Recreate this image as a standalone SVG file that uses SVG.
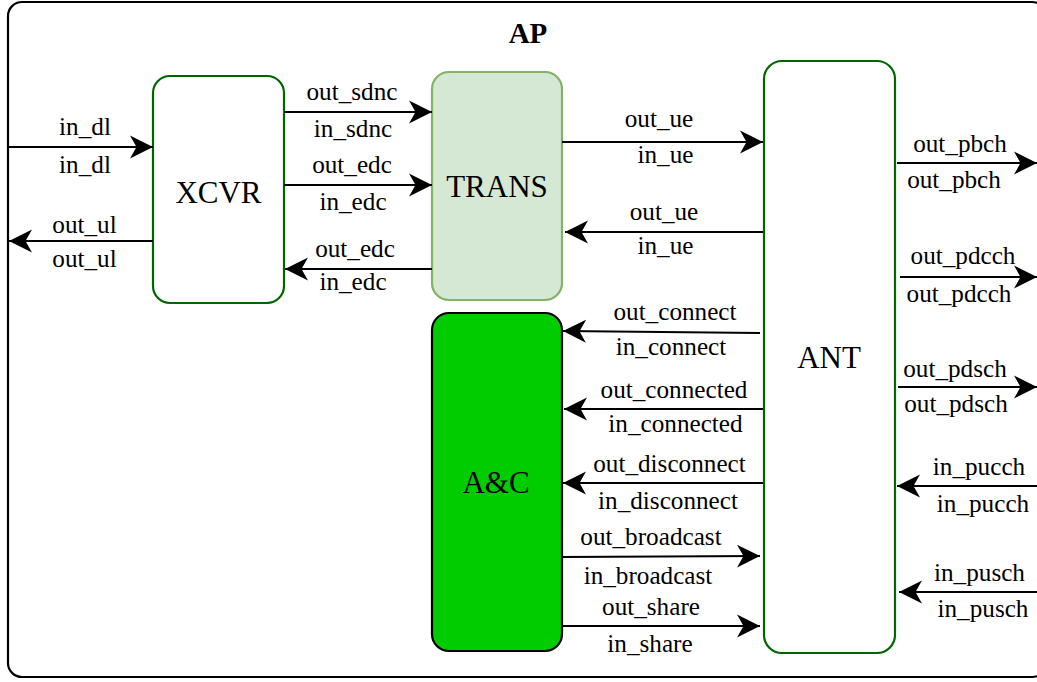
<svg xmlns="http://www.w3.org/2000/svg" width="1037" height="682" viewBox="0 0 1037 682">
<defs>
<marker id="arr" markerUnits="userSpaceOnUse" markerWidth="24" markerHeight="24" viewBox="0 0 24 24" refX="23" refY="12" orient="auto">
<path d="M0,0.5 L23,12 L0,23.5 L6.5,12 Z" fill="#000"/>
</marker>
<style>
.lbl{font-family:"Liberation Serif","Times New Roman",serif;font-size:25.2px;fill:#000;text-anchor:middle}
.nt{font-family:"Liberation Serif","Times New Roman",serif;font-size:31px;fill:#000;text-anchor:middle}
.ln{stroke:#000;stroke-width:2.2;fill:none;marker-end:url(#arr)}
.gn{fill:#fff;stroke:#006600;stroke-width:2.2}
</style>
</defs>
<rect x="0" y="0" width="1037" height="682" fill="#fff"/>
<g id="AP">
<rect x="8" y="2" width="1038" height="675" rx="14" fill="none" stroke="#000" stroke-width="2.2"/>
<text x="528" y="43" style="font-family:'Liberation Serif','Times New Roman',serif;font-size:29px;font-weight:bold;text-anchor:middle">AP</text>
</g>
<g id="XCVR">
<rect class="gn" x="153" y="76" width="131" height="227" rx="17"/>
<text class="nt" x="218.5" y="203">XCVR</text>
</g>
<g id="TRANS">
<rect x="432" y="72" width="130" height="228" rx="17" fill="#d5e8d4" stroke="#82b366" stroke-width="2.2"/>
<text class="nt" x="497" y="197">TRANS</text>
</g>
<g id="AC">
<rect x="432" y="313" width="130" height="338" rx="17" fill="#00cc00" stroke="#000" stroke-width="2.2"/>
<text class="nt" x="496" y="493">A&amp;C</text>
</g>
<g id="ANT">
<rect class="gn" x="764" y="61" width="131" height="592" rx="18"/>
<text class="nt" x="829" y="368">ANT</text>
</g>
<g id="connectors">
<line class="ln" x1="8" y1="147" x2="153" y2="147"/>
<line class="ln" x1="153" y1="241" x2="9" y2="241"/>
<line class="ln" x1="284" y1="112" x2="432" y2="112"/>
<line class="ln" x1="284" y1="185" x2="432" y2="185"/>
<line class="ln" x1="432" y1="269" x2="285" y2="269"/>
<line class="ln" x1="562" y1="142" x2="763" y2="142"/>
<line class="ln" x1="763" y1="232" x2="565" y2="232"/>
<line class="ln" x1="760" y1="333" x2="563" y2="331"/>
<line class="ln" x1="763" y1="409" x2="564" y2="409"/>
<line class="ln" x1="763" y1="483" x2="563" y2="483"/>
<line class="ln" x1="562" y1="557" x2="760" y2="556"/>
<line class="ln" x1="562" y1="626" x2="760" y2="626"/>
<line class="ln" x1="897" y1="163" x2="1037" y2="163"/>
<line class="ln" x1="900" y1="277" x2="1037" y2="277"/>
<line class="ln" x1="898" y1="387" x2="1037" y2="387"/>
<line class="ln" x1="1037" y1="486" x2="897" y2="486"/>
<line class="ln" x1="1037" y1="592" x2="899" y2="592"/>
<g id="labels">
<text class="lbl" x="85" y="135">in_dl</text>
<text class="lbl" x="85" y="173">in_dl</text>
<text class="lbl" x="84.5" y="233">out_ul</text>
<text class="lbl" x="84.5" y="267">out_ul</text>
<text class="lbl" x="352" y="100">out_sdnc</text>
<text class="lbl" x="353" y="137">in_sdnc</text>
<text class="lbl" x="352" y="173">out_edc</text>
<text class="lbl" x="353" y="210">in_edc</text>
<text class="lbl" x="355" y="257">out_edc</text>
<text class="lbl" x="353" y="290">in_edc</text>
<text class="lbl" x="659" y="127">out_ue</text>
<text class="lbl" x="665.5" y="163">in_ue</text>
<text class="lbl" x="664" y="220">out_ue</text>
<text class="lbl" x="665.5" y="254">in_ue</text>
<text class="lbl" x="675" y="320">out_connect</text>
<text class="lbl" x="671" y="355">in_connect</text>
<text class="lbl" x="674" y="398">out_connected</text>
<text class="lbl" x="675.5" y="432">in_connected</text>
<text class="lbl" x="669.5" y="472">out_disconnect</text>
<text class="lbl" x="668" y="509">in_disconnect</text>
<text class="lbl" x="651" y="545">out_broadcast</text>
<text class="lbl" x="648" y="584">in_broadcast</text>
<text class="lbl" x="651" y="615">out_share</text>
<text class="lbl" x="650" y="652">in_share</text>
<text class="lbl" x="960" y="152">out_pbch</text>
<text class="lbl" x="954" y="188">out_pbch</text>
<text class="lbl" x="963" y="264">out_pdcch</text>
<text class="lbl" x="959" y="302">out_pdcch</text>
<text class="lbl" x="955" y="377">out_pdsch</text>
<text class="lbl" x="956" y="412">out_pdsch</text>
<text class="lbl" x="979" y="475">in_pucch</text>
<text class="lbl" x="983" y="512">in_pucch</text>
<text class="lbl" x="979.5" y="581">in_pusch</text>
<text class="lbl" x="983" y="617">in_pusch</text>
</g>
</g>
</svg>
